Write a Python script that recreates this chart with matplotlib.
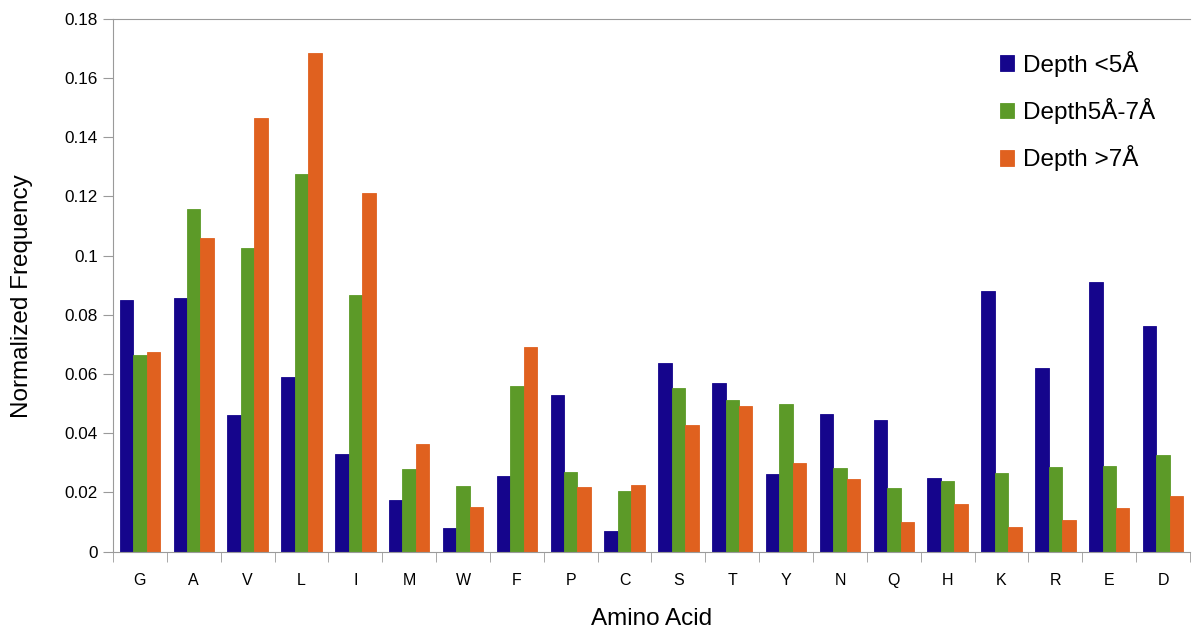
import matplotlib.pyplot as plt
import numpy as np

plt.rcParams['font.family'] = ['Liberation Sans', 'DejaVu Sans']

# amino acids and normalized frequencies per depth class
amino_acids = ['G', 'A', 'V', 'L', 'I', 'M', 'W', 'F', 'P', 'C',
               'S', 'T', 'Y', 'N', 'Q', 'H', 'K', 'R', 'E', 'D']
depth_lt5 = [0.085, 0.0858, 0.0462, 0.059, 0.0329, 0.0175, 0.0079, 0.0256, 0.0529, 0.007,
             0.0638, 0.0569, 0.0263, 0.0465, 0.0444, 0.0249, 0.0881, 0.0619, 0.0911, 0.0761]
depth_5to7 = [0.0664, 0.1157, 0.1024, 0.1274, 0.0867, 0.028, 0.0222, 0.056, 0.0269, 0.0206,
              0.0552, 0.0511, 0.0499, 0.0284, 0.0214, 0.024, 0.0267, 0.0287, 0.0289, 0.0328]
depth_gt7 = [0.0674, 0.106, 0.1463, 0.1683, 0.121, 0.0363, 0.015, 0.0691, 0.0217, 0.0225,
             0.0429, 0.0493, 0.0298, 0.0245, 0.0101, 0.0161, 0.0084, 0.0107, 0.0149, 0.0189]
labels = ['Depth <5Å', 'Depth5Å-7Å', 'Depth >7Å']
colors = ['#15058c', '#5c9a28', '#e0611f']

fig = plt.figure(figsize=(11.93, 6.3), dpi=100)
ax = fig.add_axes([0.0947, 0.1243, 0.9028, 0.846])

x = np.arange(len(amino_acids))
w = 0.25
for k, (vals, lab, col) in enumerate(zip([depth_lt5, depth_5to7, depth_gt7], labels, colors)):
    ax.bar(x + (k - 1) * w, vals, w, color=col, label=lab,
           edgecolor=col, linewidth=0.6)

ax.set_xlim(-0.5, len(amino_acids) - 0.5)
ax.set_ylim(0, 0.18)
ax.set_yticks(np.arange(0, 0.181, 0.02))
ax.set_yticklabels(['0', '0.02', '0.04', '0.06', '0.08', '0.1', '0.12', '0.14', '0.16', '0.18'])
ax.set_xticks(x)
ax.set_xticklabels(amino_acids)
ax.set_xticks(np.arange(-0.5, len(amino_acids)), minor=True)
ax.tick_params(axis='x', which='major', length=0, pad=15, labelsize=11.5)
ax.tick_params(axis='x', which='minor', length=7, color='#9a9a9a')
ax.tick_params(axis='y', length=7, color='#9a9a9a', labelsize=12.3, pad=4)

for s in ['left', 'bottom', 'top']:
    ax.spines[s].set_color('#9a9a9a')
ax.spines['right'].set_visible(False)

ax.set_ylabel('Normalized Frequency', fontsize=17.5)
ax.yaxis.set_label_coords(-0.0743, 0.48)
ax.set_xlabel('Amino Acid', fontsize=17.5, labelpad=15)

ax.legend(loc='upper left', bbox_to_anchor=(0.803, 0.981), frameon=False,
          fontsize=17.5, handlelength=0.6, handleheight=0.6, handletextpad=0.35,
          labelspacing=0.88)

fig.savefig('out.png', dpi=100)
